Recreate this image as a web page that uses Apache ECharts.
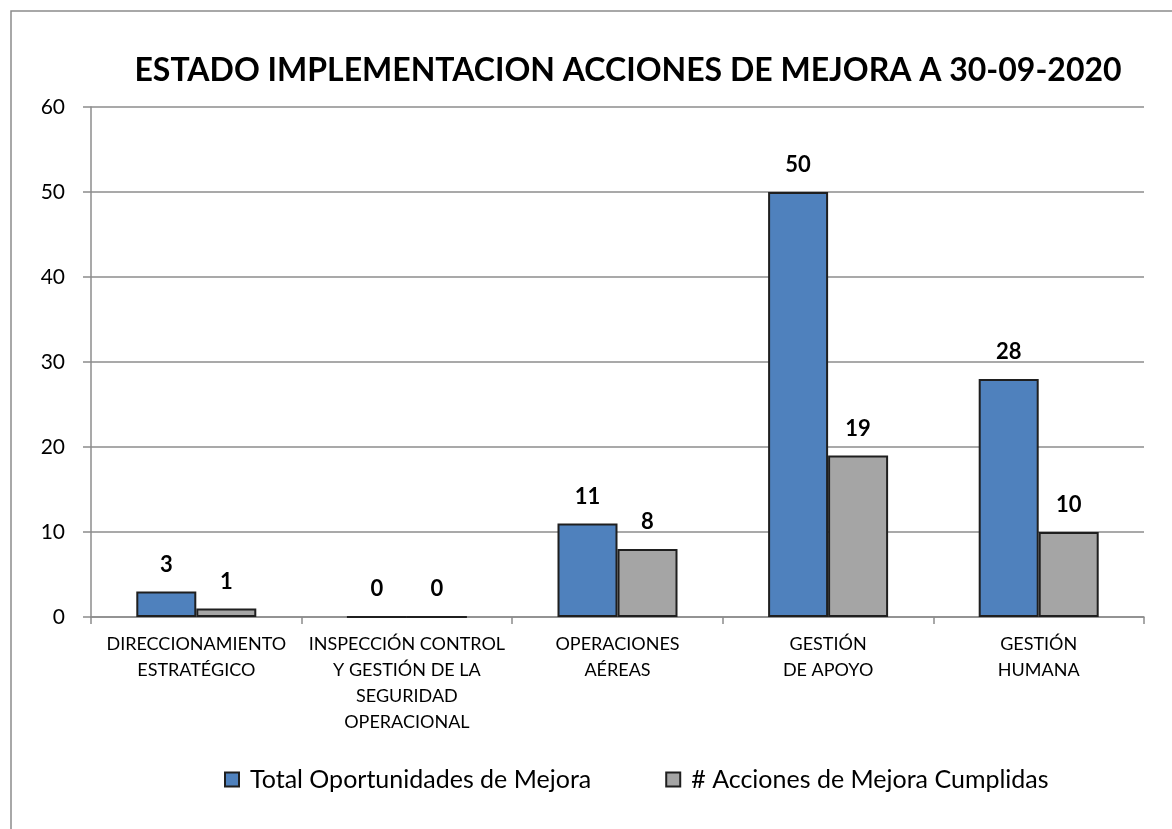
<!DOCTYPE html>
<html>
<head>
  <meta charset="UTF-8">
  <title>Estado implementacion acciones de mejora</title>
  <script src="https://cdn.jsdelivr.net/npm/echarts@6/dist/echarts.min.js"></script>
  <style>
    html, body { margin: 0; padding: 0; background: #fff; }
    #chart { width: 1172px; height: 829px; }
  </style>
</head>
<body>
<div id="chart"></div>
<script>
  var categories = [
    'DIRECCIONAMIENTO\nESTRATÉGICO',
    'INSPECCIÓN CONTROL\nY GESTIÓN DE LA\nSEGURIDAD\nOPERACIONAL',
    'OPERACIONES\nAÉREAS',
    'GESTIÓN\nDE APOYO',
    'GESTIÓN\nHUMANA'
  ];
  var totalOportunidades = [3, 0, 11, 50, 28];
  var accionesCumplidas = [1, 0, 8, 19, 10];

  var font = 'Lato, "Open Sans", sans-serif';
  var chart = echarts.init(document.getElementById('chart'));

  // etiqueta de valor encima de cada barra
  var valueLabel = {
    show: true, position: 'top', distance: 16,
    fontSize: 22, fontWeight: 'bold', color: '#000', fontFamily: font
  };

  chart.setOption({
    animation: false,
    textStyle: { fontFamily: font },
    title: {
      text: 'ESTADO IMPLEMENTACION ACCIONES DE MEJORA A 30-09-2020',
      left: 623,
      textAlign: 'center',
      top: 50,
      textStyle: { fontSize: 32, fontWeight: 'bold', color: '#000', fontFamily: font }
    },
    graphic: [{
      type: 'rect',
      shape: { x: 11, y: 11, width: 1300, height: 1000 },
      style: { fill: 'none', stroke: '#8c8c8c', lineWidth: 1.5 },
      silent: true
    }],
    legend: {
      top: 762,
      left: 219,
      itemWidth: 14,
      itemHeight: 14,
      itemGap: 74,
      icon: 'rect',
      textStyle: { fontSize: 25, color: '#000', fontFamily: font, padding: [0, 0, 0, 6] },
      data: ['Total Oportunidades de Mejora', '# Acciones de Mejora Cumplidas']
    },
    grid: { left: 91, right: 28, top: 107, bottom: 212 },
    xAxis: {
      type: 'category',
      data: categories,
      axisLine: { lineStyle: { color: '#8c8c8c', width: 1.5 } },
      axisTick: { show: true, length: 7, lineStyle: { color: '#8c8c8c', width: 1.5 } },
      axisLabel: { color: '#000', fontSize: 18, lineHeight: 26, margin: 14, interval: 0 }
    },
    yAxis: {
      type: 'value',
      min: 0,
      max: 60,
      interval: 10,
      axisLine: { show: true, lineStyle: { color: '#8c8c8c', width: 1.5 } },
      axisTick: { show: true, length: 8, lineStyle: { color: '#8c8c8c', width: 1.5 } },
      axisLabel: { color: '#000', fontSize: 21, margin: 26 },
      splitLine: { lineStyle: { color: '#8c8c8c', width: 1.5 } }
    },
    series: [
      {
        name: 'Total Oportunidades de Mejora',
        type: 'bar',
        data: totalOportunidades,
        barWidth: 60,
        barGap: '0%',
        itemStyle: { color: '#4F81BD', borderColor: '#1f1f1f', borderWidth: 2 },
        label: valueLabel
      },
      {
        name: '# Acciones de Mejora Cumplidas',
        type: 'bar',
        data: accionesCumplidas,
        barWidth: 60,
        barGap: '0%',
        itemStyle: { color: '#A5A5A5', borderColor: '#1f1f1f', borderWidth: 2 },
        label: valueLabel
      }
    ]
  });
</script>
</body>
</html>
